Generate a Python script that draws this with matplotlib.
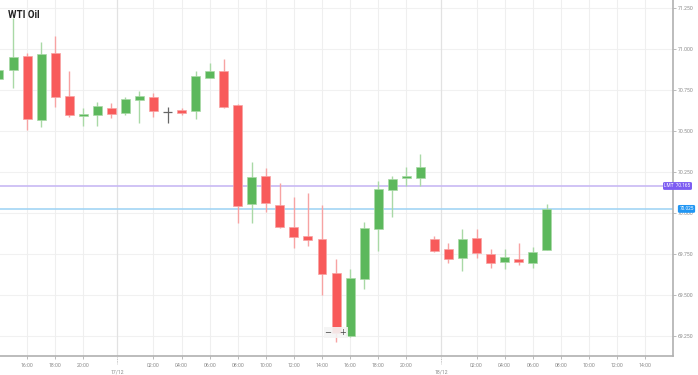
import matplotlib
matplotlib.use("Agg")
import matplotlib.pyplot as plt
import matplotlib.transforms as mtransforms

plt.rcParams['font.family'] = ['Roboto', 'DejaVu Sans']

# ---- data ----
title = "WTI Oil"
positions = list(range(-1, 39))
opens  = [70.818, 70.875, 70.959, 70.568, 70.976, 70.713, 70.594, 70.597, 70.640, 70.613,
          70.690, 70.709, 70.619, 70.627, 70.623, 70.825, 70.866, 70.660, 70.053, 70.224,
          70.047, 69.913, 69.861, 69.839, 69.635, 69.250, 69.597, 69.900, 70.140, 70.214,
          70.214, 69.843, 69.778, 69.723, 69.847, 69.748, 69.699, 69.719, 69.696, 69.772]
highs  = [70.890, 71.191, 70.977, 71.043, 71.083, 70.867, 70.643, 70.680, 70.674, 70.709,
          70.745, 70.735, 70.649, 70.643, 70.867, 70.914, 70.943, 70.665, 70.312, 70.273,
          70.185, 70.100, 70.120, 70.049, 69.719, 69.656, 69.943, 70.197, 70.228, 70.279,
          70.359, 69.861, 69.815, 69.902, 69.902, 69.782, 69.782, 69.815, 69.790, 70.055]
lows   = [70.800, 70.765, 70.507, 70.527, 70.646, 70.588, 70.531, 70.533, 70.578, 70.599,
          70.548, 70.588, 70.552, 70.599, 70.574, 70.825, 70.641, 69.940, 69.937, 70.008,
          69.910, 69.788, 69.798, 69.499, 69.214, 69.245, 69.534, 69.768, 69.974, 70.165,
          70.165, 69.764, 69.695, 69.648, 69.723, 69.662, 69.658, 69.684, 69.666, 69.772]
closes = [70.874, 70.951, 70.572, 70.969, 70.707, 70.600, 70.605, 70.655, 70.607, 70.695,
          70.713, 70.623, 70.619, 70.613, 70.835, 70.867, 70.649, 70.045, 70.218, 70.059,
          69.916, 69.852, 69.833, 69.626, 69.267, 69.605, 69.910, 70.145, 70.208, 70.226,
          70.283, 69.770, 69.719, 69.843, 69.757, 69.693, 69.729, 69.703, 69.762, 70.025]

time_tick_pos = [1, 3, 5, 10, 12, 14, 16, 18, 20, 22, 24, 26, 28, 33, 35, 37, 39, 41, 43, 45]
time_tick_labels = ["16:00", "18:00", "20:00", "02:00", "04:00", "06:00", "08:00", "10:00",
                    "12:00", "14:00", "16:00", "18:00", "20:00", "02:00", "04:00", "06:00",
                    "08:00", "10:00", "12:00", "14:00"]
date_pos = [7.43, 30.47]
date_labels = ["17/12", "18/12"]

y_ticks = [69.25, 69.5, 69.75, 70.0, 70.25, 70.5, 70.75, 71.0, 71.25]

limit_level = 70.165
limit_label = "LMT  70.165"
last_level = 70.025
last_label = "70.025"

# ---- styling ----
W, H = 698, 375
fig = plt.figure(figsize=(W / 100, H / 100), dpi=100)
ax = fig.add_axes([0, 19 / H, 673 / W, 1 - 19 / H])
ax.set_xlim(-0.926, 46.99)
ax.set_ylim(69.1265, 71.301)

red = "#f85a5a"
green = "#5cb85c"
red_wick = "#f7a3a3"
green_wick = "#a9d9a6"

# grid
for y in y_ticks:
    ax.axhline(y, color="#f1f1f1", lw=0.8, zorder=0)
for x in time_tick_pos:
    ax.axvline(x, color="#efefef", lw=0.8, zorder=0)
for x in date_pos:
    ax.axvline(x, color="#e2e2e2", lw=0.9, zorder=0)

# candles
for x, o, h, l, c in zip(positions, opens, highs, lows, closes):
    if abs(c - o) < 1e-9:
        col = "#666666"
        ax.vlines(x, l, h, color=col, lw=0.9, zorder=2)
        ax.hlines(o, x - 0.32, x + 0.32, color=col, lw=0.9, zorder=3)
        continue
    up = c > o
    col = green if up else red
    wcol = green_wick if up else red_wick
    ax.vlines(x, l, h, color=wcol, lw=1.0, zorder=2)
    ax.bar(x, abs(c - o), bottom=min(o, c), width=0.64, color=col,
           edgecolor=wcol, linewidth=0.5, zorder=3)

# horizontal levels
ax.axhline(limit_level, color="#c8b9f4", lw=1.2, zorder=1)
ax.axhline(last_level, color="#a3d5f5", lw=1.2, zorder=1)

# spines
for s in ["top", "left"]:
    ax.spines[s].set_visible(False)
ax.spines["right"].set_color("#b0b0b0")
ax.spines["bottom"].set_color("#b0b0b0")
ax.spines["right"].set_linewidth(1.2)
ax.spines["bottom"].set_linewidth(1.2)

ax.yaxis.tick_right()
ax.set_yticks(y_ticks)
ax.set_yticklabels([f"{v:.3f}" for v in y_ticks])
ax.tick_params(axis="y", which="major", length=2, width=0.6, color="#b0b0b0",
               labelsize=3.7, labelcolor="#8a8a8a", pad=1.5)

ax.set_xticks(time_tick_pos)
ax.set_xticklabels(time_tick_labels)
ax.tick_params(axis="x", which="major", length=2.5, width=0.6, color="#b0b0b0",
               labelsize=3.7, labelcolor="#8a8a8a", pad=2.5)

# date labels
trans_dx = mtransforms.blended_transform_factory(ax.transData, fig.transFigure)
for x, lab in zip(date_pos, date_labels):
    ax.vlines(x, 1 - 357 / H, 1 - 364 / H, transform=trans_dx, colors="#b0b0b0",
              lw=0.6, linestyles=(0, (1, 1)), clip_on=False)
    ax.text(x, 1 - 372 / H, lab, transform=trans_dx, ha="center", va="center",
            fontsize=3.7, color="#8a8a8a")

# badges
trans_fy = mtransforms.blended_transform_factory(fig.transFigure, ax.transData)
ax.text(677.5 / W, limit_level, limit_label, transform=trans_fy, ha="center", va="center",
        fontsize=3.4, color="white", clip_on=False, zorder=10,
        bbox=dict(boxstyle="round,pad=0.3,rounding_size=0.3", fc="#7c5cf2", ec="none"))
ax.text(686.5 / W, last_level, last_label, transform=trans_fy, ha="center", va="center",
        fontsize=3.4, color="white", clip_on=False, zorder=10,
        bbox=dict(boxstyle="round,pad=0.3,rounding_size=0.3", fc="#2196f3", ec="none"))

# title
fig.text(8 / W, 1 - 14.5 / H, title, ha="left", va="center", fontsize=7,
         fontweight="bold", color="#222222")

# zoom control
fig.text(336 / W, 1 - 332.5 / H, "\u2212   +", ha="center", va="center", fontsize=6,
         color="#444444", family=["DejaVu Sans"],
         bbox=dict(boxstyle="square,pad=0.15", fc="#f4f4f4", ec="none", alpha=0.9))

fig.savefig("out.png", dpi=100)
